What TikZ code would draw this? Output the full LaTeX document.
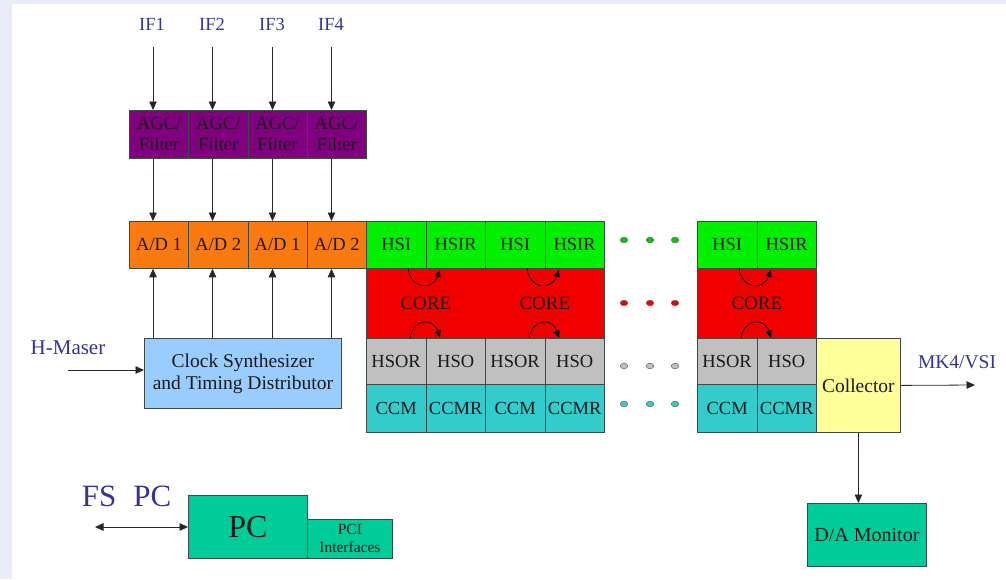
\documentclass[tikz,border=0pt]{standalone}
\usepackage{fontspec}
\setmainfont{LiberationSerif}[Extension=.ttf, UprightFont=*-Regular, BoldFont=*-Bold]
\newfontfamily\timesf{LiberationSerif}[Extension=.ttf, UprightFont=*-Regular]
\usetikzlibrary{arrows.meta,calc}
\definecolor{bgc}{HTML}{E8ECF7}
\definecolor{purp}{HTML}{800080}
\definecolor{orng}{HTML}{F97A10}
\definecolor{grn}{HTML}{00F000}
\definecolor{rd}{HTML}{F20000}
\definecolor{gry}{HTML}{C0C0C0}
\definecolor{cyn}{HTML}{33CCCC}
\definecolor{clkc}{HTML}{99CCFF}
\definecolor{colc}{HTML}{FFFF99}
\definecolor{pcc}{HTML}{00CC99}
\definecolor{labblue}{HTML}{333399}
\definecolor{txt}{HTML}{1A1A1A}
\definecolor{bord}{HTML}{3C4A48}
\begin{document}
\begin{tikzpicture}[x=1pt,y=-1pt,
  cell/.style={draw=bord, line width=0.8pt, inner sep=0pt, anchor=north west,
    text=txt, align=center, font=\timesf\fontsize{18.5}{21}\selectfont},
  lab/.style={text=labblue, inner sep=0pt, font=\timesf\fontsize{18.5}{21}\selectfont},
  arr/.style={draw=black!85, line width=0.8pt, -{Triangle[width=7.5pt,length=8.5pt]}},
  carr/.style={draw=black, line width=0.7pt, -{Triangle[width=6pt,length=7pt]}},
  dot/.style={draw=black!60, line width=0.5pt}
]
\fill[white] (0,0) rectangle (1006,579);
\fill[bgc] (0,0) rectangle (12,579);
\fill[bgc] (0,0) rectangle (1006,4);
\useasboundingbox (0,0) rectangle (1006,579);

% IF labels
\node[lab] (if1) at (152,24) {IF1};
\node[lab] (if2) at (212,24) {IF2};
\node[lab] (if3) at (272,24) {IF3};
\node[lab] (if4) at (331,24) {IF4};
\coordinate (t1) at (153,47);
\coordinate (t2) at (212.5,47);
\coordinate (t3) at (272.5,47);
\coordinate (t4) at (331.5,47);

% AGC row
\node[cell, fill=purp, minimum width=59.25pt, minimum height=48pt] (agc1) at (129,110) {AGC/\\Filter};
\node[cell, fill=purp, minimum width=59.25pt, minimum height=48pt] (agc2) at (188.25,110) {AGC/\\Filter};
\node[cell, fill=purp, minimum width=59.25pt, minimum height=48pt] (agc3) at (247.5,110) {AGC/\\Filter};
\node[cell, fill=purp, minimum width=59.25pt, minimum height=48pt] (agc4) at (306.75,110) {AGC/\\Filter};

% A/D row
\node[cell, fill=orng, minimum width=59.25pt, minimum height=47pt] (ad1) at (129,221) {A/D 1};
\node[cell, fill=orng, minimum width=59.25pt, minimum height=47pt] (ad2) at (188.25,221) {A/D 2};
\node[cell, fill=orng, minimum width=59.25pt, minimum height=47pt] (ad3) at (247.5,221) {A/D 1};
\node[cell, fill=orng, minimum width=59.25pt, minimum height=47pt] (ad4) at (306.75,221) {A/D 2};

% processing blocks
\foreach \ox/\n in {0/1, 119/2, 331/3} {
  \node[cell, fill=grn, minimum width=59.5pt, minimum height=47pt] (hsi\n) at (366+\ox,221) {HSI};
  \node[cell, fill=grn, minimum width=59.5pt, minimum height=47pt] (hsir\n) at (425.5+\ox,221) {HSIR};
  \node[cell, fill=rd, minimum width=119pt, minimum height=70pt, font=\timesf\fontsize{19}{21}\selectfont] (core\n) at (366+\ox,268) {CORE};
  \node[cell, fill=gry, minimum width=59.5pt, minimum height=46pt] (hsor\n) at (366+\ox,338) {HSOR};
  \node[cell, fill=gry, minimum width=59.5pt, minimum height=46pt] (hso\n) at (425.5+\ox,338) {HSO};
  \node[cell, fill=cyn, minimum width=59.5pt, minimum height=48pt] (ccm\n) at (366+\ox,384) {CCM};
  \node[cell, fill=cyn, minimum width=59.5pt, minimum height=48pt] (ccmr\n) at (425.5+\ox,384) {CCMR};
  \begin{scope}[xshift=\ox]
    \draw[carr] (408,268.5) .. controls (411,289) and (432,291) .. (440,270);
    \draw[carr] (410,338) .. controls (413,319) and (433,317) .. (440,337.5);
  \end{scope}
}

% ellipsis dots
\foreach \x in {624,650,675} {
  \filldraw[dot, fill=grn!85!black] (\x,240) ellipse (3.8 and 2.8);
  \filldraw[dot, fill=rd] (\x,303) ellipse (3.8 and 2.8);
  \filldraw[dot, fill=gry] (\x,366) ellipse (3.8 and 2.8);
  \filldraw[dot, fill=cyn] (\x,404) ellipse (3.8 and 2.8);
}

% Collector
\node[cell, fill=colc, minimum width=84pt, minimum height=94pt, font=\timesf\fontsize{19.5}{22}\selectfont] (col) at (816,338) {Collector};
\node[lab, font=\timesf\fontsize{19.5}{22}\selectfont] (mk) at (957,362) {MK4/VSI};
\coordinate (mkend) at (975,385);

% D/A monitor
\node[cell, fill=pcc, minimum width=119pt, minimum height=63pt, font=\timesf\fontsize{20}{22}\selectfont] (da) at (807,503) {D/A Monitor};

% Clock synthesizer
\node[cell, fill=clkc, minimum width=197pt, minimum height=70pt, font=\timesf\fontsize{19.5}{22}\selectfont] (clk) at (144,338) {Clock Synthesizer\\and Timing Distributor};
\node[lab, font=\timesf\fontsize{21}{24}\selectfont] (hm) at (68,348) {H-Maser};
\coordinate (hms) at (68,370);

% PC
\node[cell, fill=pcc, minimum width=119pt, minimum height=63pt, font=\timesf\fontsize{32}{34}\selectfont] (pc) at (188,495) {PC};
\node[cell, fill=pcc, minimum width=85pt, minimum height=39pt, font=\timesf\fontsize{15.5}{18}\selectfont] (pci) at (307,519) {PCI\\Interfaces};
\node[lab, font=\timesf\fontsize{31}{34}\selectfont] (fspc) at (126.5,496) {FS\hspace{0.55em}PC};
\coordinate (fs) at (95,527);

% connectors
\foreach \t/\n in {t1/1, t2/2, t3/3, t4/4} {
  \draw[arr] (\t) -- (\t |- agc\n.north);
  \draw[arr] (\t |- agc\n.south) -- (\t |- ad\n.north);
  \draw[arr] (\t |- clk.north) -- (\t |- ad\n.south);
}
\draw[arr] (hms) -- (hms -| clk.west);
\draw[arr] (col.east) -- (mkend);
\draw[arr] (col.south) -- (col.south |- da.north);
\draw[arr, {Triangle[width=7.5pt,length=8.5pt]}-{Triangle[width=7.5pt,length=8.5pt]}] (fs) -- (fs -| pc.west);
\end{tikzpicture}
\end{document}
